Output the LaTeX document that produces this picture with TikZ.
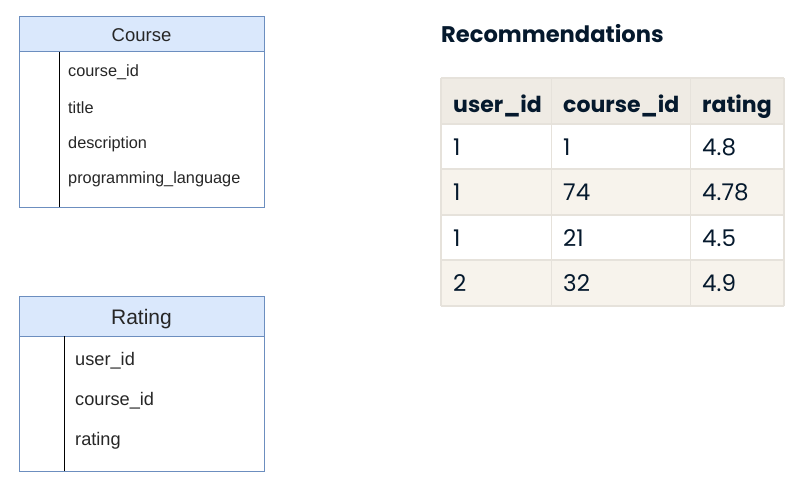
\documentclass[tikz,border=0pt]{standalone}
\usepackage{fontspec}
\setmainfont{Liberation Sans}
\newfontfamily\pop{Poppins}
\definecolor{erfill}{HTML}{DAE8FC}
\definecolor{erline}{HTML}{6C8EBF}
\definecolor{thfill}{HTML}{EFEBE4}
\definecolor{stripe}{HTML}{F7F3EC}
\definecolor{grid}{HTML}{E6E2DB}
\definecolor{navy}{HTML}{05192D}
\tikzset{
  erbox/.style={draw=erline, line width=1pt},
  erhead/.style={draw=erline, fill=erfill, line width=1pt},
  erdiv/.style={draw=black, line width=1.3pt},
  ftxt/.style={anchor=base west, inner sep=0pt, font=\fontsize{16.3}{19}\selectfont, text=black!85},
  rtxt/.style={anchor=base west, inner sep=0pt, font=\fontsize{18.2}{21}\selectfont, text=black!85},
  tcell/.style={anchor=base west, inner sep=0pt, font=\pop\fontsize{23}{27}\selectfont, text=navy},
  thead/.style={anchor=base west, inner sep=0pt, font=\pop\bfseries\fontsize{22}{26}\selectfont, text=navy},
  gridline/.style={draw=grid, line width=1.6pt},
}
\begin{document}
\begin{tikzpicture}[x=1pt,y=-1pt]
\useasboundingbox (0,0) rectangle (797,495);
% Course entity
\fill[white] (19,17) rectangle (264,207);
\draw[erhead] (19,17) rectangle (264,52);
\draw[erbox] (19,52) rectangle (264,207);
\draw[erdiv] (59.5,52) -- (59.5,207);
\node[anchor=base, inner sep=0pt, font=\fontsize{18.5}{22}\selectfont, text=black!85] (courseT) at (141.5,41.5) {Course};
\node[ftxt] (c1) at (68,77) {course\_id};
\node[ftxt] (c2) at (68,113) {title};
\node[ftxt] (c3) at (68,148) {description};
\node[ftxt] (c4) at (68,183.5) {programming\_language};
% Rating entity
\draw[erhead] (19,296) rectangle (264,336);
\draw[erbox] (19,336) rectangle (264,471);
\draw[erdiv] (64.5,336) -- (64.5,471);
\node[anchor=base, inner sep=0pt, font=\fontsize{21}{25}\selectfont, text=black!85] (ratingT) at (141.5,324.5) {Rating};
\node[rtxt] (r1) at (75,365) {user\_id};
\node[rtxt] (r2) at (75,405) {course\_id};
\node[rtxt] (r3) at (75,445) {rating};
% Recommendations table
\node[anchor=base west, inner sep=0pt, font=\pop\bfseries\fontsize{22.6}{27}\selectfont, text=navy] (recT) at (441,42) {Recommendations};
\fill[thfill] (441,78) rectangle (784,124);
\fill[stripe] (441,169) rectangle (784,215);
\fill[stripe] (441,260) rectangle (784,306);
\foreach \y in {78,124,169,215,260,306} \draw[gridline] (441,\y) -- (784,\y);
\foreach \x in {441,551.5,690.5,784} \draw[gridline] (\x,78) -- (\x,306);
\node[thead] (h1) at (453,112) {user\_id};
\node[thead] (h2) at (563,112) {course\_id};
\node[thead] (h3) at (702,112) {rating};
\node[tcell] (a1) at (453,155) {1};
\node[tcell] (a2) at (563,155) {1};
\node[tcell] (a3) at (702,155) {4.8};
\node[tcell] (b1) at (453,200.5) {1};
\node[tcell] (b2) at (563,200.5) {74};
\node[tcell] (b3) at (702,200.5) {4.78};
\node[tcell] (d1) at (453,246.5) {1};
\node[tcell] (d2) at (563,246.5) {21};
\node[tcell] (d3) at (702,246.5) {4.5};
\node[tcell] (e1) at (453,291.5) {2};
\node[tcell] (e2) at (563,291.5) {32};
\node[tcell] (e3) at (702,291.5) {4.9};
\end{tikzpicture}
\end{document}
